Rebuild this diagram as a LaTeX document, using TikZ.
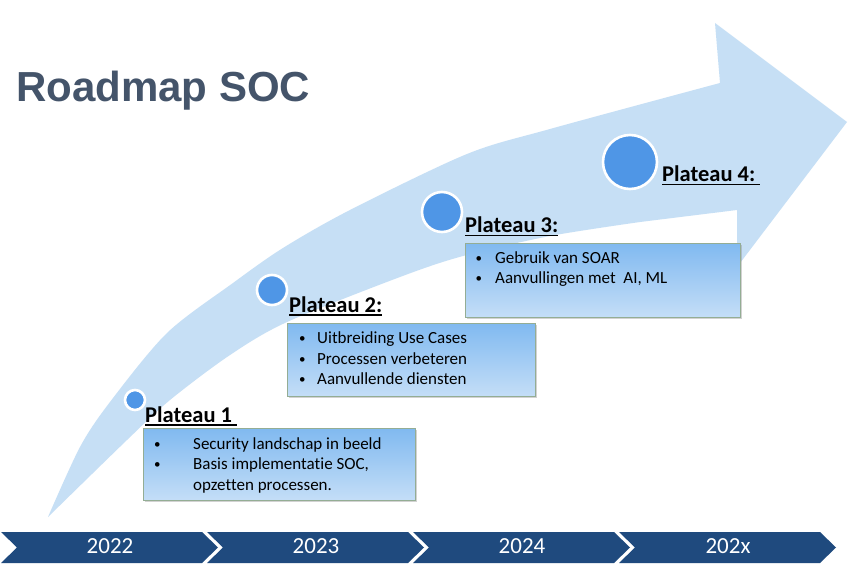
\documentclass[tikz,border=0pt]{standalone}
\usepackage{fontspec}
\setmainfont{Carlito}[Ligatures=NoCommon]
\newfontfamily\titlefont{Liberation Sans}
\usetikzlibrary{shadows, positioning}
\definecolor{arrowfill}{HTML}{C6DFF5}
\definecolor{dotblue}{HTML}{4F96E6}
\definecolor{boxtop}{HTML}{80B9F0}
\definecolor{boxbot}{HTML}{C4DEF7}
\definecolor{boxline}{HTML}{94AD94}
\definecolor{barblue}{HTML}{1F4A7E}
\definecolor{titlecol}{HTML}{44546A}
\newcommand\ulabel[1]{\sbox0{#1}\rlap{\rule[-3.5pt]{\wd0}{1.8pt}}\usebox0}
\newcommand\bul[1]{\makebox[#1][l]{\hspace{1pt}\raisebox{1pt}{\fontsize{13}{13}\selectfont\textbullet}}}

\begin{document}
\begin{tikzpicture}[x=1pt, y=-1pt,
  dot/.style={circle, fill=dotblue, draw=white, line width=2.6pt, inner sep=0pt},
  plabel/.style={anchor=base west, inner sep=0pt, font=\fontsize{22.5}{27}\selectfont\bfseries},
  plbox/.style={rectangle, draw=boxline, line width=1pt, top color=boxtop, bottom color=boxbot,
                drop shadow={shadow xshift=2pt, shadow yshift=-2pt, opacity=0.35}},
  items/.style={anchor=base west, inner sep=0pt, font=\fontsize{17}{20.5}\selectfont},
  year/.style={text=white, font=\fontsize{23}{28}\selectfont}
]
\useasboundingbox (0,0) rectangle (849,575);
\fill[white] (0,0) rectangle (849,575);

% curved arrow
\fill[arrowfill] plot[smooth] coordinates {(48,517) (80,447) (110,402) (167,333) (233,283)
    (283,248) (350,210) (467,154) (550,129) (720,83)}
  -- (715,23) -- (847,122) -- (737,267) -- (737,210)
  -- plot[smooth] coordinates {(640,222) (550,236) (463,256) (400,277) (287,322) (230,355)
    (170,400) (127,440) (48,517)} -- cycle;

\node[anchor=base west, inner sep=0pt, text=titlecol,
      font=\titlefont\fontsize{42}{50}\selectfont\bfseries] (title) at (16,102) {Roadmap SOC};

% plateaus
\node[dot, minimum size=20pt] (c1) at (135,400) {};
\node[dot, minimum size=30pt] (c2) at (272,290) {};
\node[dot, minimum size=40pt] (c3) at (442,212) {};
\node[dot, minimum size=54pt] (c4) at (630,162) {};

\node[plabel] (p1) at (145,422) {\ulabel{Plateau 1\ }};
\node[plabel] (p2) at (289,312) {\ulabel{Plateau 2:}};
\node[plabel] (p3) at (465,233) {\ulabel{Plateau 3:}};
\node[plabel] (p4) at (662,182) {\ulabel{Plateau 4:\ }};

\node[plbox, minimum width=272pt, minimum height=72pt] (box1) at (279,464) {};
\node[plbox, minimum width=248pt, minimum height=73pt] (box2) at (411,359.5) {};
\node[plbox, minimum width=275pt, minimum height=74pt] (box3) at (602.5,280) {};

\node[items] (list1) at (153,449) {\begin{tabular}[t]{@{}l@{}}
  \bul{40pt}Security landschap in beeld\\
  \bul{40pt}Basis implementatie SOC,\\
  \hspace{40pt}opzetten processen.\end{tabular}};
\node[items] (list2) at (298,343.5) {\begin{tabular}[t]{@{}l@{}}
  \bul{19pt}Uitbreiding Use Cases\\
  \bul{19pt}Processen verbeteren\\
  \bul{19pt}Aanvullende diensten\end{tabular}};
\node[items] (list3) at (474.5,263) {\begin{tabular}[t]{@{}l@{}}
  \bul{20.5pt}Gebruik van SOAR\\
  \bul{20.5pt}Aanvullingen met\ \ AI, ML\end{tabular}};

% years
\foreach \yr [count=\i from 0] in {2022,2023,2024,202x} {
  \fill[barblue] ({206*\i+1},532) -- ({206*\i+202},532) -- ({206*\i+218},547.5)
    -- ({206*\i+202},563) -- ({206*\i+1},563) -- ({206*\i+17},547.5) -- cycle;
  \node[year] (yr\i) at ({206*\i+110},546) {\yr};
}
\end{tikzpicture}
\end{document}
